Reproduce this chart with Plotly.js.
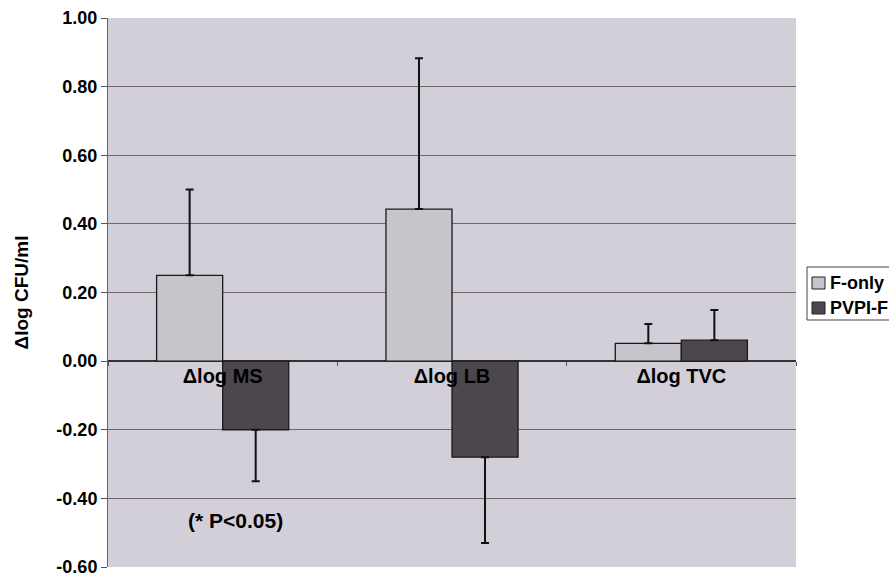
<!DOCTYPE html>
<html><head><meta charset="utf-8">
<script src="https://cdn.plot.ly/plotly-3.0.1.min.js"></script>
<style>body{margin:0;background:#fff}#c{width:889px;height:576px}</style>
</head><body><div id="c"></div>
<script>
const categories = ["\u0394log MS", "\u0394log LB", "\u0394log TVC"];
const seriesNames = ["F-only", "PVPI-F"];
const fOnly = [0.25, 0.443, 0.052];
const fOnlyErrUp = [0.25, 0.44, 0.056];
const pvpi = [-0.20, -0.28, 0.061];
const pvpiErrUp = [0, 0, 0.088];
const pvpiErrDown = [0.15, 0.25, 0];
const yTickVals = [-0.6, -0.4, -0.2, 0, 0.2, 0.4, 0.6, 0.8, 1.0];
const yTickText = yTickVals.map(v => "<b>" + v.toFixed(2) + "</b>");
const catText = categories.map(c => "<b>" + c + "</b>");
const seriesColors = ["#c7c4cb", "#4b474d"];

const fam = "Liberation Sans, Arial, sans-serif";
const F = (size) => ({family: fam, size: size, color: "#000", weight: 700});
const traces = [
  {type: "bar", name: seriesNames[0], x: categories, y: fOnly, showlegend: false,
   marker: {color: seriesColors[0], line: {color: "#1a1a1a", width: 1.3}},
   error_y: {type: "data", symmetric: false, array: fOnlyErrUp, arrayminus: [0,0,0], color: "#111", thickness: 2, width: 4}},
  {type: "bar", name: seriesNames[1], x: categories, y: pvpi, showlegend: false,
   marker: {color: seriesColors[1], line: {color: "#1a1a1a", width: 1.3}},
   error_y: {type: "data", symmetric: false, array: pvpiErrUp, arrayminus: pvpiErrDown, color: "#111", thickness: 2, width: 4}}
];

// manual legend (paper coordinates)
const PX = (px) => (px - 108) / 688;
const PY = (py) => (567 - py) / 549;
const legendShapes = [
  {type: "rect", xref: "paper", yref: "paper", x0: PX(807), x1: PX(905), y0: PY(320), y1: PY(267),
   fillcolor: "#fff", line: {color: "#444", width: 1}},
  {type: "rect", xref: "paper", yref: "paper", x0: PX(812), x1: PX(825), y0: PY(289), y1: PY(277),
   fillcolor: seriesColors[0], line: {color: "#222", width: 1}},
  {type: "rect", xref: "paper", yref: "paper", x0: PX(812), x1: PX(825), y0: PY(314), y1: PY(302),
   fillcolor: seriesColors[1], line: {color: "#222", width: 1}}
];
const legendText = seriesNames.map((n, i) => ({xref: "paper", yref: "paper", x: PX(828), y: PY(i === 0 ? 283 : 308),
  xanchor: "left", yanchor: "middle", text: "<b>" + n + "</b>", showarrow: false, font: F(18)}));

const layout = {
  width: 889, height: 576,
  margin: {l: 108, r: 93, t: 18, b: 9},
  paper_bgcolor: "#ffffff", plot_bgcolor: "#d3cfd9",
  barmode: "group", bargap: 0.424, bargroupgap: 0,
  font: F(16),
  showlegend: false,
  xaxis: {anchor: "free", position: 0.375, showgrid: false, showline: false, zeroline: false,
          ticks: "outside", tickson: "boundaries", ticklen: 4, tickcolor: "#555",
          tickvals: categories, ticktext: catText,
          tickfont: F(20), ticklabelstandoff: 1},
  yaxis: {range: [-0.6, 1.0], tickvals: yTickVals, ticktext: yTickText, showgrid: true, gridcolor: "#6e686d", gridwidth: 1,
          zeroline: true, zerolinecolor: "#333", zerolinewidth: 1.5, ticklabeloverflow: "allow",
          showline: true, linecolor: "#666", ticks: "outside", ticklen: 6, tickcolor: "#555",
          tickfont: F(18),
          title: {text: "<b>\u0394log CFU/ml</b>", font: F(19), standoff: 22}},
  shapes: legendShapes,
  annotations: [{xref: "x", yref: "y", x: 0.054, y: -0.465, text: "<b>(* P<0.05)</b>", showarrow: false,
                 font: F(21)}].concat(legendText)
};
Plotly.newPlot("c", traces, layout, {displayModeBar: false, staticPlot: true});
</script></body></html>
